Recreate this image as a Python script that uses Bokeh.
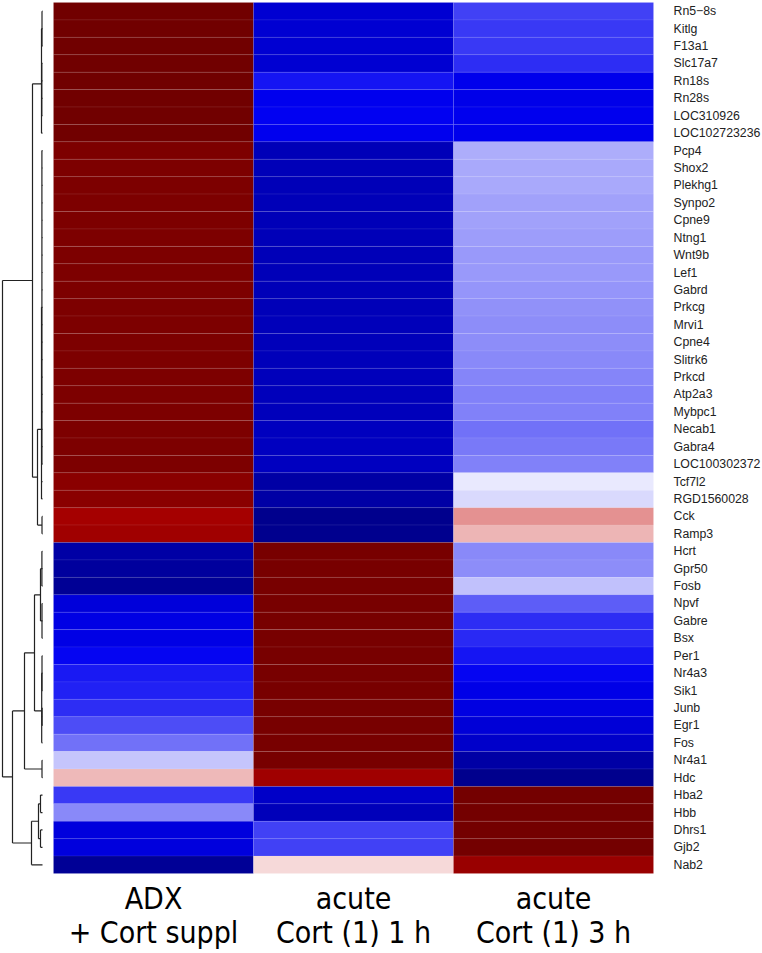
import numpy as np
from bokeh.plotting import figure
from bokeh.models import Range1d, ColumnDataSource, LinearColorMapper
from bokeh.transform import transform
from bokeh.core.properties import value
from bokeh.embed import file_html
from bokeh.resources import INLINE

# ---------------- data ----------------
genes = ["Rn5\u22128s", "Kitlg", "F13a1", "Slc17a7", "Rn18s", "Rn28s", "LOC310926", "LOC102723236",
         "Pcp4", "Shox2", "Plekhg1", "Synpo2", "Cpne9", "Ntng1", "Wnt9b", "Lef1", "Gabrd", "Prkcg",
         "Mrvi1", "Cpne4", "Slitrk6", "Prkcd", "Atp2a3", "Mybpc1", "Necab1", "Gabra4", "LOC100302372",
         "Tcf7l2", "RGD1560028", "Cck", "Ramp3", "Hcrt", "Gpr50", "Fosb", "Npvf", "Gabre", "Bsx",
         "Per1", "Nr4a3", "Sik1", "Junb", "Egr1", "Fos", "Nr4a1", "Hdc", "Hba2", "Hbb", "Dhrs1",
         "Gjb2", "Nab2"]

condition_line1 = ["ADX", "acute", "acute"]
condition_line2 = ["+ Cort suppl", "Cort (1) 1 h", "Cort (1) 3 h"]

adx = [0.99, 0.99, 0.99, 0.99, 0.99, 0.99, 0.99, 0.99,
       0.92, 0.92, 0.92, 0.92, 0.92, 0.92, 0.92, 0.92, 0.92, 0.92,
       0.92, 0.92, 0.92, 0.92, 0.92, 0.92, 0.92, 0.92, 0.92,
       0.83, 0.83, 0.67, 0.70,
       -0.87, -0.91, -0.95, -0.61, -0.57, -0.56, -0.49, -0.45, -0.43, -0.41, -0.35, -0.28, -0.11, 0.14,
       -0.39, -0.23, -0.60, -0.60, -0.94]

cort_1h = [-0.65, -0.65, -0.65, -0.65, -0.46, -0.52, -0.50, -0.52,
           -0.78, -0.78, -0.78, -0.78, -0.78, -0.78, -0.78, -0.78, -0.78, -0.78,
           -0.77, -0.77, -0.77, -0.76, -0.76, -0.76, -0.75, -0.74, -0.74,
           -0.875, -0.87, -0.99, -0.98,
           0.95, 0.95, 0.95, 0.95, 0.95, 0.95, 0.95, 0.95, 0.95, 0.95, 0.95, 0.95, 0.95, 0.70,
           -0.70, -0.77, -0.37, -0.37, 0.073]

cort_3h = [-0.37, -0.39, -0.385, -0.41, -0.53, -0.54, -0.52, -0.53,
           -0.163, -0.167, -0.17, -0.18, -0.186, -0.194, -0.198, -0.20, -0.205, -0.217,
           -0.22, -0.225, -0.23, -0.24, -0.25, -0.25, -0.28, -0.265, -0.25,
           -0.045, -0.076, 0.218, 0.145,
           -0.233, -0.22, -0.12, -0.32, -0.41, -0.42, -0.46, -0.49, -0.55, -0.58, -0.63, -0.69, -0.875, -0.99,
           0.97, 0.97, 0.97, 0.97, 0.74]

# dendrogram: (height, [children]); leaves are row indices
dendro_top = (10, [
    (1.0, [(0.5, [0, 1, 2]), (0.7, [3, 4, 5, 6]), 7]),
    (5.0, [(1.0, [(0.6, list(range(8, 27))), 27, 28]), (0.5, [29, 30])]),
])
dendro_bottom = (30, [
    (18, [
        (8, [(2.0, [(0.6, [31, 32, 33]), (0.5, [34, 35, 36])]),
             (0.8, [(0.5, [37, 38, 39]), (0.4, [40, 41]), 42])]),
        (0.5, [43, 44]),
    ]),
    (11, [(4, [(2, [45, 46]), (2, [47, 48])]), 49]),
])
dendrogram = (40, [dendro_top, dendro_bottom])

palette_anchors = ["#00008B", "#0000F2", "#FFFFFF", "#C00000", "#700000"]

# ---------------- layout constants ----------------
W, H = 762, 953
heat_left_px = 53.0
heat_top_px = 2.0
col_px = 200.0
row_px = 17.42
leaf_px, root_px = 42.0, 2.0
label_gap_px = 20.0
line1_px, line2_px = 898.0, 932.0

x_start = -0.5 - heat_left_px / col_px
x_end = x_start + W / col_px
y_top = -0.5 - heat_top_px / row_px
y_bottom = y_top + H / row_px

root_h = dendrogram[0]
k = (leaf_px - root_px) / root_h
d_start = leaf_px / k
d_end = -(W - leaf_px) / k


def build_palette(anchors, n=256):
    rgb = np.array([[int(c[i:i + 2], 16) for i in (1, 3, 5)] for c in anchors], dtype=float)
    pos = np.linspace(0, 1, len(anchors))
    out = []
    for t in np.linspace(0, 1, n):
        r = np.interp(t, pos, rgb[:, 0])
        g = np.interp(t, pos, rgb[:, 1])
        b = np.interp(t, pos, rgb[:, 2])
        out.append("#%02x%02x%02x" % (int(round(r)), int(round(g)), int(round(b))))
    return out


palette = build_palette(palette_anchors)
mapper = LinearColorMapper(palette=palette, low=-1, high=1)

p = figure(width=W, height=H, x_range=Range1d(x_start, x_end), y_range=Range1d(y_bottom, y_top),
           output_backend="svg", toolbar_location=None, min_border=0,
           x_axis_type=None, y_axis_type=None)
p.extra_x_ranges = {"dendro": Range1d(d_start, d_end)}
p.outline_line_color = None
p.background_fill_color = "white"
p.border_fill_color = "white"

# heatmap
xs, ys, vs = [], [], []
for ci, col in enumerate([adx, cort_1h, cort_3h]):
    for ri, v in enumerate(col):
        xs.append(ci)
        ys.append(ri)
        vs.append(v)
src = ColumnDataSource(dict(x=xs, y=ys, v=vs))
p.rect(x="x", y="y", width=1, height=1, source=src, fill_color=transform("v", mapper),
       line_color="white", line_alpha=0.12, line_width=0.6)

# gene labels
p.text(x=[2.5 + label_gap_px / col_px] * len(genes), y=list(range(len(genes))), text=genes,
       text_font=value("'Liberation Sans', Arial, sans-serif"), text_font_size="12.3px",
       text_baseline="middle", text_align="left", text_color="#222222")

# column labels
narrow = value("'Liberation Sans Narrow', 'Arial Narrow', 'DejaVu Sans Condensed', sans-serif")
p.text(x=[0, 1, 2], y=[y_top + line1_px / row_px] * 3, text=condition_line1, text_font=narrow,
       text_font_size="30px", text_align="center", text_baseline="alphabetic", text_color="black")
p.text(x=[0, 1, 2], y=[y_top + line2_px / row_px] * 3, text=condition_line2, text_font=narrow,
       text_font_size="30px", text_align="center", text_baseline="alphabetic", text_color="black")

# dendrogram
seg = dict(x0=[], y0=[], x1=[], y1=[])


def walk(node):
    if isinstance(node, int):
        return 0.0, float(node)
    h, kids = node
    pos = [walk(c) for c in kids]
    cy = [y for _, y in pos]
    seg["x0"].append(h); seg["y0"].append(min(cy)); seg["x1"].append(h); seg["y1"].append(max(cy))
    for hc, yc in pos:
        seg["x0"].append(h); seg["y0"].append(yc); seg["x1"].append(hc); seg["y1"].append(yc)
    return h, float(np.mean(cy))


walk(dendrogram)
p.segment(x0="x0", y0="y0", x1="x1", y1="y1", source=ColumnDataSource(seg), x_range_name="dendro",
          line_color="#222222", line_width=1.2)

open("out.html", "w").write(file_html(p, INLINE, title="heatmap"))
